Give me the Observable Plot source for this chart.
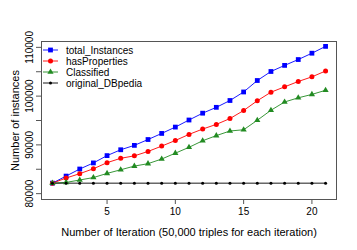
<!DOCTYPE html>
<html>
<head>
<meta charset="utf-8">
<script src="https://cdn.jsdelivr.net/npm/d3@7"></script>
<script src="https://cdn.jsdelivr.net/npm/@observablehq/plot@0.6"></script>
<style>
  body { margin: 0; background: #fff; font-family: "Liberation Sans", Arial, sans-serif; }
  #wrap { position: relative; width: 357px; height: 250px; }
  #legend { position: absolute; left: 42px; top: 44.5px; font-size: 10px; color: #000; }
  #legend .row { height: 11px; display: flex; align-items: center; white-space: nowrap; }
  #legend .row span { display: block; height: 11px; line-height: 11px; overflow: visible; }
  #legend svg { margin-right: 7px; flex: none; }
</style>
</head>
<body>
<div id="wrap"><div id="legend"></div></div>
<script>
const iterations = [1, 2, 3, 4, 5, 6, 7, 8, 9, 10, 11, 12, 13, 14, 15, 16, 17, 18, 19, 20, 21];
const totalInstances = [82150, 83600, 85050, 86300, 87800, 89000, 89900, 91100, 92350, 93650, 95100, 96500, 97700, 99100, 100850, 103200, 105050, 106300, 107500, 108800, 110200];
const hasProperties = [82150, 83200, 84100, 85100, 86350, 87250, 87750, 88650, 89750, 90900, 92150, 93250, 94200, 95400, 97050, 99050, 100800, 101900, 103000, 103950, 105150];
const classified = [82150, 82300, 82800, 83300, 84150, 84900, 85650, 86150, 87100, 88300, 89500, 90850, 91900, 92850, 93100, 95050, 97100, 98800, 99650, 100350, 101200];
const originalDBpedia = [82150, 82150, 82150, 82150, 82150, 82150, 82150, 82150, 82150, 82150, 82150, 82150, 82150, 82150, 82150, 82150, 82150, 82150, 82150, 82150, 82150];
const seriesNames = ["total_Instances", "hasProperties", "Classified", "original_DBpedia"];
const seriesColors = ["#0000ff", "#ff0000", "#228b22", "#000000"];
const seriesSymbols = ["square", "circle", "triangle", "circle"];
const yTicks = [80000, 85000, 90000, 95000, 100000, 105000, 110000];
const xTicks = [5, 10, 15, 20];

const allValues = [totalInstances, hasProperties, classified, originalDBpedia];
const data = [];
seriesNames.forEach((name, s) => {
  iterations.forEach((it, i) => data.push({series: name, x: it, y: allValues[s][i]}));
});

const sizes = {"total_Instances": 2.7, "hasProperties": 2.5, "Classified": 2.3, "original_DBpedia": 1.5};

const chart = Plot.plot({
  width: 357,
  height: 250,
  marginLeft: 41,
  marginTop: 41,
  marginRight: 21,
  marginBottom: 51,
  style: {fontFamily: "Liberation Sans, Arial, sans-serif", background: "#fff"},
  x: {domain: [0.2, 21.8]},
  y: {domain: [78800, 111200]},
  color: {domain: seriesNames, range: seriesColors},
  symbol: {domain: seriesNames, range: seriesSymbols},
  marks: [
    Plot.axisX({ticks: xTicks, tickSize: 5, tickPadding: 3, fontSize: 10, label: null, stroke: "#555", color: "#000"}),
    Plot.axisX({ticks: [], label: "Number of Iteration (50,000 triples for each iteration)", labelAnchor: "center", labelArrow: "none", labelOffset: 36, fontSize: 11}),
    Plot.axisY({ticks: yTicks, tickFormat: d => d % 10000 === 0 ? String(d) : "", tickRotate: -90, tickSize: 5, tickPadding: 4, fontSize: 10, label: null, stroke: "#555"}),
    Plot.axisY({ticks: [], label: "Number of instances", labelAnchor: "center", labelArrow: "none", labelOffset: 30, fontSize: 11}),
    Plot.frame({stroke: "#555"}),
    Plot.line(data, {x: "x", y: "y", z: "series", stroke: "series", strokeWidth: 0.9}),
    ...seriesNames.map(name => Plot.dot(data.filter(d => d.series === name), {x: "x", y: "y", symbol: "series", fill: "series", r: sizes[name]}))
  ]
});
document.getElementById("wrap").prepend(chart);

const legend = d3.select("#legend");
seriesNames.forEach((name, i) => {
  const row = legend.append("div").attr("class", "row");
  const svg = row.append("svg").attr("width", 17).attr("height", 10);
  svg.append("line").attr("x1", 1).attr("x2", 16).attr("y1", 5).attr("y2", 5).attr("stroke", seriesColors[i]).attr("stroke-width", 0.9);
  const sym = {square: d3.symbolSquare, circle: d3.symbolCircle, triangle: d3.symbolTriangle}[seriesSymbols[i]];
  const r = sizes[name];
  svg.append("path").attr("transform", "translate(8.5,5)").attr("d", d3.symbol(sym, Math.PI * r * r)()).attr("fill", seriesColors[i]);
  row.append("span").text(name);
});
</script>
</body>
</html>
